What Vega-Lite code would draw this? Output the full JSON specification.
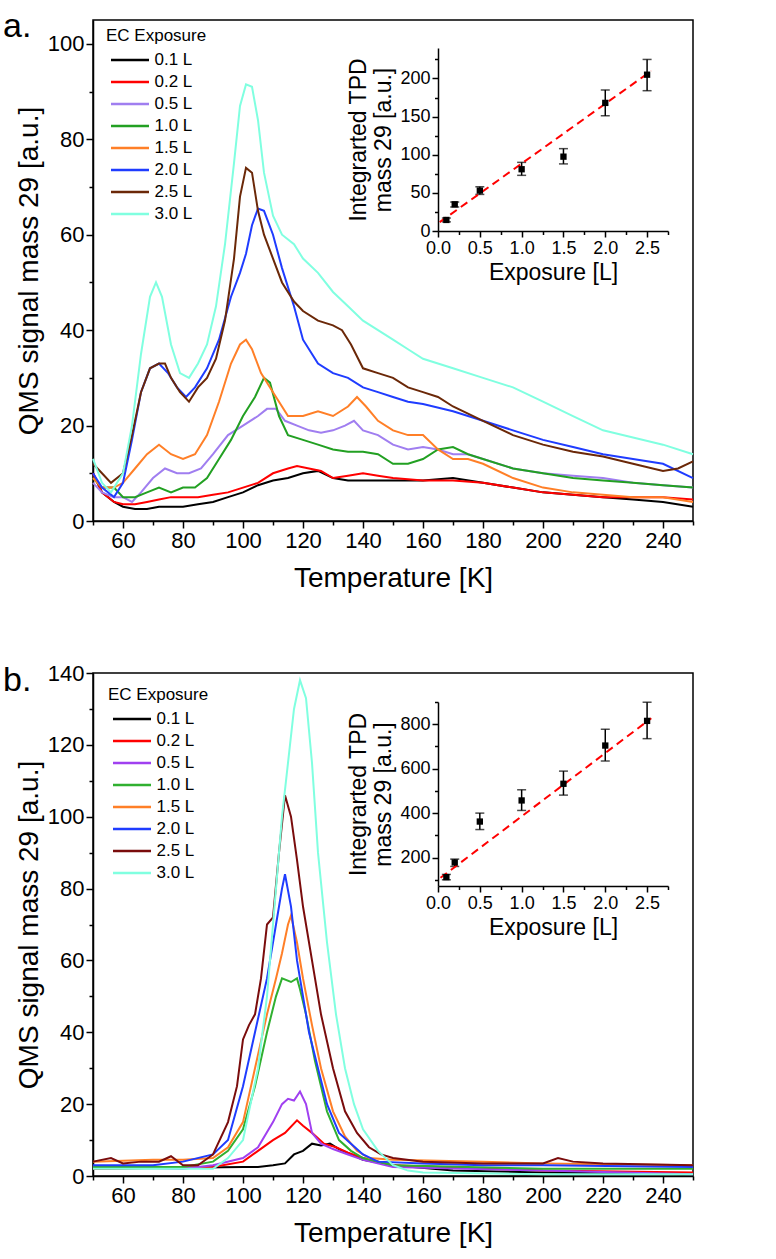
{
  "$schema": "https://vega.github.io/schema/vega-lite/v6.json",
  "padding": {"left": 2, "top": 8, "right": 10, "bottom": 2},
  "spacing": 68,
  "config": {
    "font": "Liberation Sans",
    "view": {"stroke": "black", "strokeWidth": 1.5},
    "axis": {"grid": false, "domainColor": "black", "tickColor": "black", "labelColor": "black", "titleColor": "black", "domainWidth": 1.5, "tickWidth": 1.5, "labelFontSize": 22, "titleFontSize": 28, "titleFontWeight": "normal", "labelOverlap": false, "labelFlush": false, "labelPadding": 2},
    "legend": {"titleFontSize": 17, "labelFontSize": 17, "titleFontWeight": "normal", "titleColor": "black", "labelColor": "black", "padding": 0, "rowPadding": 3, "titlePadding": 4, "symbolType": "M-1,0H3", "symbolSize": 361, "symbolStrokeWidth": 2.5, "symbolOffset": 3.5, "labelOffset": 23}
  },
  "resolve": {"scale": {"color": "independent"}},
  "datasets": {
    "a": [
      {"s":"0.1 L","t":50,"v":10},{"s":"0.1 L","t":53,"v":6},{"s":"0.1 L","t":57,"v":4},{"s":"0.1 L","t":60,"v":3},{"s":"0.1 L","t":64,"v":2.5},{"s":"0.1 L","t":68,"v":2.5},{"s":"0.1 L","t":72,"v":3},{"s":"0.1 L","t":76,"v":3},{"s":"0.1 L","t":80,"v":3},{"s":"0.1 L","t":85,"v":3.5},{"s":"0.1 L","t":90,"v":4},{"s":"0.1 L","t":95,"v":5},{"s":"0.1 L","t":100,"v":6},{"s":"0.1 L","t":105,"v":7.5},{"s":"0.1 L","t":110,"v":8.5},{"s":"0.1 L","t":115,"v":9},{"s":"0.1 L","t":120,"v":10},{"s":"0.1 L","t":125,"v":10.5},{"s":"0.1 L","t":130,"v":9},{"s":"0.1 L","t":135,"v":8.5},{"s":"0.1 L","t":140,"v":8.5},{"s":"0.1 L","t":150,"v":8.5},{"s":"0.1 L","t":160,"v":8.5},{"s":"0.1 L","t":170,"v":9},{"s":"0.1 L","t":180,"v":8},{"s":"0.1 L","t":190,"v":7},{"s":"0.1 L","t":200,"v":6},{"s":"0.1 L","t":210,"v":5.5},{"s":"0.1 L","t":220,"v":5},{"s":"0.1 L","t":230,"v":4.5},{"s":"0.1 L","t":240,"v":4},{"s":"0.1 L","t":250,"v":3},
      {"s":"0.2 L","t":50,"v":10},{"s":"0.2 L","t":53,"v":6},{"s":"0.2 L","t":57,"v":4},{"s":"0.2 L","t":60,"v":3.5},{"s":"0.2 L","t":64,"v":3.5},{"s":"0.2 L","t":68,"v":4},{"s":"0.2 L","t":72,"v":4.5},{"s":"0.2 L","t":76,"v":5},{"s":"0.2 L","t":80,"v":5},{"s":"0.2 L","t":85,"v":5},{"s":"0.2 L","t":90,"v":5.5},{"s":"0.2 L","t":95,"v":6},{"s":"0.2 L","t":100,"v":7},{"s":"0.2 L","t":105,"v":8},{"s":"0.2 L","t":110,"v":10},{"s":"0.2 L","t":115,"v":11},{"s":"0.2 L","t":118,"v":11.5},{"s":"0.2 L","t":122,"v":11},{"s":"0.2 L","t":126,"v":10.5},{"s":"0.2 L","t":130,"v":9},{"s":"0.2 L","t":135,"v":9.5},{"s":"0.2 L","t":140,"v":10},{"s":"0.2 L","t":145,"v":9.5},{"s":"0.2 L","t":150,"v":9},{"s":"0.2 L","t":160,"v":8.5},{"s":"0.2 L","t":170,"v":8.5},{"s":"0.2 L","t":180,"v":8},{"s":"0.2 L","t":190,"v":7},{"s":"0.2 L","t":200,"v":6},{"s":"0.2 L","t":210,"v":5.5},{"s":"0.2 L","t":220,"v":5},{"s":"0.2 L","t":230,"v":5},{"s":"0.2 L","t":240,"v":5},{"s":"0.2 L","t":250,"v":4.5},
      {"s":"0.5 L","t":50,"v":8},{"s":"0.5 L","t":53,"v":6},{"s":"0.5 L","t":57,"v":5},{"s":"0.5 L","t":60,"v":5},{"s":"0.5 L","t":63,"v":4},{"s":"0.5 L","t":66,"v":6},{"s":"0.5 L","t":70,"v":9},{"s":"0.5 L","t":74,"v":11},{"s":"0.5 L","t":78,"v":10},{"s":"0.5 L","t":82,"v":10},{"s":"0.5 L","t":86,"v":11},{"s":"0.5 L","t":90,"v":14},{"s":"0.5 L","t":95,"v":18},{"s":"0.5 L","t":100,"v":20},{"s":"0.5 L","t":105,"v":22},{"s":"0.5 L","t":108,"v":23.5},{"s":"0.5 L","t":111,"v":23.5},{"s":"0.5 L","t":114,"v":21},{"s":"0.5 L","t":118,"v":20},{"s":"0.5 L","t":122,"v":19},{"s":"0.5 L","t":126,"v":18.5},{"s":"0.5 L","t":130,"v":19},{"s":"0.5 L","t":134,"v":20},{"s":"0.5 L","t":137,"v":21},{"s":"0.5 L","t":140,"v":19},{"s":"0.5 L","t":145,"v":18},{"s":"0.5 L","t":150,"v":16},{"s":"0.5 L","t":155,"v":15},{"s":"0.5 L","t":160,"v":15.5},{"s":"0.5 L","t":165,"v":15},{"s":"0.5 L","t":170,"v":14},{"s":"0.5 L","t":175,"v":14},{"s":"0.5 L","t":180,"v":13},{"s":"0.5 L","t":190,"v":11},{"s":"0.5 L","t":200,"v":10},{"s":"0.5 L","t":210,"v":9.5},{"s":"0.5 L","t":220,"v":9},{"s":"0.5 L","t":230,"v":8},{"s":"0.5 L","t":240,"v":7.5},{"s":"0.5 L","t":250,"v":7},
      {"s":"1.0 L","t":50,"v":9},{"s":"1.0 L","t":53,"v":7},{"s":"1.0 L","t":57,"v":7},{"s":"1.0 L","t":60,"v":5},{"s":"1.0 L","t":64,"v":5},{"s":"1.0 L","t":68,"v":6},{"s":"1.0 L","t":72,"v":7},{"s":"1.0 L","t":76,"v":6},{"s":"1.0 L","t":80,"v":7},{"s":"1.0 L","t":84,"v":7},{"s":"1.0 L","t":88,"v":9},{"s":"1.0 L","t":92,"v":13},{"s":"1.0 L","t":96,"v":17},{"s":"1.0 L","t":100,"v":22},{"s":"1.0 L","t":104,"v":26},{"s":"1.0 L","t":107,"v":30},{"s":"1.0 L","t":109,"v":29},{"s":"1.0 L","t":112,"v":22},{"s":"1.0 L","t":115,"v":18},{"s":"1.0 L","t":120,"v":17},{"s":"1.0 L","t":125,"v":16},{"s":"1.0 L","t":130,"v":15},{"s":"1.0 L","t":135,"v":14.5},{"s":"1.0 L","t":140,"v":14.5},{"s":"1.0 L","t":145,"v":14},{"s":"1.0 L","t":150,"v":12},{"s":"1.0 L","t":155,"v":12},{"s":"1.0 L","t":160,"v":13},{"s":"1.0 L","t":165,"v":15},{"s":"1.0 L","t":170,"v":15.5},{"s":"1.0 L","t":175,"v":14},{"s":"1.0 L","t":180,"v":13},{"s":"1.0 L","t":190,"v":11},{"s":"1.0 L","t":200,"v":10},{"s":"1.0 L","t":210,"v":9},{"s":"1.0 L","t":220,"v":8.5},{"s":"1.0 L","t":230,"v":8},{"s":"1.0 L","t":240,"v":7.5},{"s":"1.0 L","t":250,"v":7},
      {"s":"1.5 L","t":50,"v":9},{"s":"1.5 L","t":53,"v":7},{"s":"1.5 L","t":57,"v":7},{"s":"1.5 L","t":60,"v":8},{"s":"1.5 L","t":64,"v":11},{"s":"1.5 L","t":68,"v":14},{"s":"1.5 L","t":72,"v":16},{"s":"1.5 L","t":76,"v":14},{"s":"1.5 L","t":80,"v":13},{"s":"1.5 L","t":84,"v":14},{"s":"1.5 L","t":88,"v":18},{"s":"1.5 L","t":92,"v":25},{"s":"1.5 L","t":96,"v":33},{"s":"1.5 L","t":99,"v":37},{"s":"1.5 L","t":101,"v":38},{"s":"1.5 L","t":103,"v":36},{"s":"1.5 L","t":106,"v":31},{"s":"1.5 L","t":110,"v":27},{"s":"1.5 L","t":115,"v":22},{"s":"1.5 L","t":120,"v":22},{"s":"1.5 L","t":125,"v":23},{"s":"1.5 L","t":130,"v":22},{"s":"1.5 L","t":135,"v":24},{"s":"1.5 L","t":138,"v":26},{"s":"1.5 L","t":141,"v":24},{"s":"1.5 L","t":145,"v":21},{"s":"1.5 L","t":150,"v":19},{"s":"1.5 L","t":155,"v":18},{"s":"1.5 L","t":160,"v":18},{"s":"1.5 L","t":165,"v":15},{"s":"1.5 L","t":170,"v":13},{"s":"1.5 L","t":175,"v":13},{"s":"1.5 L","t":180,"v":12},{"s":"1.5 L","t":190,"v":9},{"s":"1.5 L","t":200,"v":7},{"s":"1.5 L","t":210,"v":6},{"s":"1.5 L","t":220,"v":5.5},{"s":"1.5 L","t":230,"v":5},{"s":"1.5 L","t":240,"v":5},{"s":"1.5 L","t":250,"v":4},
      {"s":"2.0 L","t":50,"v":10},{"s":"2.0 L","t":53,"v":7},{"s":"2.0 L","t":57,"v":5},{"s":"2.0 L","t":60,"v":8},{"s":"2.0 L","t":63,"v":17},{"s":"2.0 L","t":66,"v":27},{"s":"2.0 L","t":69,"v":32},{"s":"2.0 L","t":72,"v":33},{"s":"2.0 L","t":75,"v":31},{"s":"2.0 L","t":78,"v":28},{"s":"2.0 L","t":81,"v":26},{"s":"2.0 L","t":84,"v":28},{"s":"2.0 L","t":88,"v":32},{"s":"2.0 L","t":92,"v":38},{"s":"2.0 L","t":96,"v":47},{"s":"2.0 L","t":99,"v":52},{"s":"2.0 L","t":101,"v":56},{"s":"2.0 L","t":103,"v":62},{"s":"2.0 L","t":105,"v":65.5},{"s":"2.0 L","t":107,"v":65},{"s":"2.0 L","t":110,"v":60},{"s":"2.0 L","t":113,"v":53},{"s":"2.0 L","t":117,"v":45},{"s":"2.0 L","t":120,"v":38},{"s":"2.0 L","t":125,"v":33},{"s":"2.0 L","t":130,"v":31},{"s":"2.0 L","t":135,"v":30},{"s":"2.0 L","t":140,"v":28},{"s":"2.0 L","t":145,"v":27},{"s":"2.0 L","t":150,"v":26},{"s":"2.0 L","t":155,"v":25},{"s":"2.0 L","t":160,"v":24.5},{"s":"2.0 L","t":170,"v":23},{"s":"2.0 L","t":180,"v":21},{"s":"2.0 L","t":190,"v":19},{"s":"2.0 L","t":200,"v":17},{"s":"2.0 L","t":210,"v":15.5},{"s":"2.0 L","t":220,"v":14},{"s":"2.0 L","t":230,"v":13},{"s":"2.0 L","t":240,"v":12},{"s":"2.0 L","t":250,"v":9},
      {"s":"2.5 L","t":50,"v":12},{"s":"2.5 L","t":53,"v":10},{"s":"2.5 L","t":56,"v":8},{"s":"2.5 L","t":60,"v":10},{"s":"2.5 L","t":63,"v":18},{"s":"2.5 L","t":66,"v":27},{"s":"2.5 L","t":69,"v":32},{"s":"2.5 L","t":72,"v":33},{"s":"2.5 L","t":74,"v":33},{"s":"2.5 L","t":76,"v":30},{"s":"2.5 L","t":79,"v":27},{"s":"2.5 L","t":82,"v":25},{"s":"2.5 L","t":85,"v":28},{"s":"2.5 L","t":88,"v":30},{"s":"2.5 L","t":91,"v":34},{"s":"2.5 L","t":94,"v":42},{"s":"2.5 L","t":97,"v":55},{"s":"2.5 L","t":99,"v":68},{"s":"2.5 L","t":101,"v":74},{"s":"2.5 L","t":103,"v":73},{"s":"2.5 L","t":105,"v":65},{"s":"2.5 L","t":107,"v":60},{"s":"2.5 L","t":110,"v":55},{"s":"2.5 L","t":113,"v":50},{"s":"2.5 L","t":117,"v":46},{"s":"2.5 L","t":120,"v":44},{"s":"2.5 L","t":125,"v":42},{"s":"2.5 L","t":130,"v":41},{"s":"2.5 L","t":133,"v":40},{"s":"2.5 L","t":136,"v":37},{"s":"2.5 L","t":140,"v":32},{"s":"2.5 L","t":145,"v":31},{"s":"2.5 L","t":150,"v":30},{"s":"2.5 L","t":155,"v":28},{"s":"2.5 L","t":160,"v":27},{"s":"2.5 L","t":165,"v":26},{"s":"2.5 L","t":170,"v":24},{"s":"2.5 L","t":180,"v":21},{"s":"2.5 L","t":190,"v":18},{"s":"2.5 L","t":200,"v":16},{"s":"2.5 L","t":210,"v":14.5},{"s":"2.5 L","t":220,"v":13.5},{"s":"2.5 L","t":230,"v":12},{"s":"2.5 L","t":240,"v":10.5},{"s":"2.5 L","t":245,"v":11},{"s":"2.5 L","t":250,"v":12.5},
      {"s":"3.0 L","t":50,"v":13},{"s":"3.0 L","t":53,"v":8},{"s":"3.0 L","t":56,"v":6},{"s":"3.0 L","t":60,"v":10},{"s":"3.0 L","t":63,"v":20},{"s":"3.0 L","t":66,"v":35},{"s":"3.0 L","t":69,"v":47},{"s":"3.0 L","t":71,"v":50},{"s":"3.0 L","t":73,"v":47},{"s":"3.0 L","t":76,"v":37},{"s":"3.0 L","t":79,"v":31},{"s":"3.0 L","t":82,"v":30},{"s":"3.0 L","t":85,"v":33},{"s":"3.0 L","t":88,"v":37},{"s":"3.0 L","t":91,"v":45},{"s":"3.0 L","t":94,"v":58},{"s":"3.0 L","t":97,"v":75},{"s":"3.0 L","t":99,"v":87},{"s":"3.0 L","t":101,"v":91.5},{"s":"3.0 L","t":103,"v":91},{"s":"3.0 L","t":105,"v":84},{"s":"3.0 L","t":107,"v":73},{"s":"3.0 L","t":110,"v":64},{"s":"3.0 L","t":113,"v":60},{"s":"3.0 L","t":117,"v":58},{"s":"3.0 L","t":120,"v":55},{"s":"3.0 L","t":125,"v":52},{"s":"3.0 L","t":130,"v":48},{"s":"3.0 L","t":135,"v":45},{"s":"3.0 L","t":140,"v":42},{"s":"3.0 L","t":145,"v":40},{"s":"3.0 L","t":150,"v":38},{"s":"3.0 L","t":155,"v":36},{"s":"3.0 L","t":160,"v":34},{"s":"3.0 L","t":170,"v":32},{"s":"3.0 L","t":180,"v":30},{"s":"3.0 L","t":190,"v":28},{"s":"3.0 L","t":200,"v":25},{"s":"3.0 L","t":210,"v":22},{"s":"3.0 L","t":220,"v":19},{"s":"3.0 L","t":230,"v":17.5},{"s":"3.0 L","t":240,"v":16},{"s":"3.0 L","t":250,"v":14}
    ],
    "b": [
      {"s":"0.1 L","t":50,"v":2},{"s":"0.1 L","t":100,"v":2.5},{"s":"0.1 L","t":105,"v":2.5},{"s":"0.1 L","t":110,"v":3},{"s":"0.1 L","t":114,"v":3.5},{"s":"0.1 L","t":117,"v":6},{"s":"0.1 L","t":120,"v":7},{"s":"0.1 L","t":123,"v":9},{"s":"0.1 L","t":126,"v":8.5},{"s":"0.1 L","t":129,"v":9},{"s":"0.1 L","t":132,"v":7.5},{"s":"0.1 L","t":136,"v":6},{"s":"0.1 L","t":140,"v":4.5},{"s":"0.1 L","t":150,"v":3},{"s":"0.1 L","t":170,"v":1.5},{"s":"0.1 L","t":200,"v":1},{"s":"0.1 L","t":250,"v":0.5},
      {"s":"0.2 L","t":50,"v":2},{"s":"0.2 L","t":90,"v":2.5},{"s":"0.2 L","t":100,"v":4},{"s":"0.2 L","t":105,"v":7},{"s":"0.2 L","t":110,"v":10},{"s":"0.2 L","t":114,"v":12},{"s":"0.2 L","t":118,"v":15.5},{"s":"0.2 L","t":120,"v":14},{"s":"0.2 L","t":123,"v":12},{"s":"0.2 L","t":127,"v":9},{"s":"0.2 L","t":131,"v":8},{"s":"0.2 L","t":135,"v":6.5},{"s":"0.2 L","t":140,"v":5},{"s":"0.2 L","t":150,"v":3},{"s":"0.2 L","t":200,"v":1.5},{"s":"0.2 L","t":250,"v":1},
      {"s":"0.5 L","t":50,"v":2.5},{"s":"0.5 L","t":80,"v":2},{"s":"0.5 L","t":90,"v":3},{"s":"0.5 L","t":100,"v":5},{"s":"0.5 L","t":105,"v":8},{"s":"0.5 L","t":110,"v":15},{"s":"0.5 L","t":113,"v":20},{"s":"0.5 L","t":115,"v":21.5},{"s":"0.5 L","t":117,"v":21},{"s":"0.5 L","t":119,"v":23.5},{"s":"0.5 L","t":121,"v":20},{"s":"0.5 L","t":123,"v":12},{"s":"0.5 L","t":126,"v":9},{"s":"0.5 L","t":130,"v":7.5},{"s":"0.5 L","t":135,"v":6},{"s":"0.5 L","t":140,"v":4.5},{"s":"0.5 L","t":150,"v":2.5},{"s":"0.5 L","t":200,"v":1.5},{"s":"0.5 L","t":250,"v":0.5},
      {"s":"1.0 L","t":50,"v":2.5},{"s":"1.0 L","t":80,"v":2.5},{"s":"1.0 L","t":90,"v":4},{"s":"1.0 L","t":95,"v":7},{"s":"1.0 L","t":100,"v":13},{"s":"1.0 L","t":104,"v":25},{"s":"1.0 L","t":108,"v":40},{"s":"1.0 L","t":111,"v":50},{"s":"1.0 L","t":113,"v":55},{"s":"1.0 L","t":116,"v":54},{"s":"1.0 L","t":118,"v":55},{"s":"1.0 L","t":119,"v":52},{"s":"1.0 L","t":121,"v":45},{"s":"1.0 L","t":124,"v":32},{"s":"1.0 L","t":128,"v":18},{"s":"1.0 L","t":132,"v":10},{"s":"1.0 L","t":136,"v":7},{"s":"1.0 L","t":140,"v":5},{"s":"1.0 L","t":150,"v":3},{"s":"1.0 L","t":200,"v":2},{"s":"1.0 L","t":250,"v":2},
      {"s":"1.5 L","t":50,"v":4},{"s":"1.5 L","t":70,"v":4.5},{"s":"1.5 L","t":80,"v":4.5},{"s":"1.5 L","t":90,"v":5},{"s":"1.5 L","t":95,"v":8},{"s":"1.5 L","t":100,"v":15},{"s":"1.5 L","t":104,"v":30},{"s":"1.5 L","t":108,"v":45},{"s":"1.5 L","t":111,"v":55},{"s":"1.5 L","t":113,"v":62},{"s":"1.5 L","t":115,"v":70},{"s":"1.5 L","t":116,"v":72.5},{"s":"1.5 L","t":118,"v":65},{"s":"1.5 L","t":120,"v":55},{"s":"1.5 L","t":123,"v":42},{"s":"1.5 L","t":126,"v":30},{"s":"1.5 L","t":130,"v":18},{"s":"1.5 L","t":134,"v":11},{"s":"1.5 L","t":138,"v":7},{"s":"1.5 L","t":142,"v":5},{"s":"1.5 L","t":150,"v":4.5},{"s":"1.5 L","t":180,"v":4},{"s":"1.5 L","t":200,"v":3.5},{"s":"1.5 L","t":250,"v":3},
      {"s":"2.0 L","t":50,"v":3},{"s":"2.0 L","t":70,"v":3},{"s":"2.0 L","t":80,"v":4},{"s":"2.0 L","t":90,"v":6},{"s":"2.0 L","t":95,"v":10},{"s":"2.0 L","t":100,"v":25},{"s":"2.0 L","t":104,"v":40},{"s":"2.0 L","t":108,"v":55},{"s":"2.0 L","t":111,"v":70},{"s":"2.0 L","t":113,"v":80},{"s":"2.0 L","t":114,"v":84},{"s":"2.0 L","t":116,"v":75},{"s":"2.0 L","t":118,"v":60},{"s":"2.0 L","t":120,"v":50},{"s":"2.0 L","t":122,"v":40},{"s":"2.0 L","t":125,"v":30},{"s":"2.0 L","t":128,"v":20},{"s":"2.0 L","t":132,"v":12},{"s":"2.0 L","t":136,"v":9},{"s":"2.0 L","t":140,"v":6},{"s":"2.0 L","t":145,"v":4},{"s":"2.0 L","t":160,"v":3.5},{"s":"2.0 L","t":180,"v":3},{"s":"2.0 L","t":200,"v":3},{"s":"2.0 L","t":250,"v":2.5},
      {"s":"2.5 L","t":50,"v":4},{"s":"2.5 L","t":56,"v":5},{"s":"2.5 L","t":60,"v":3.5},{"s":"2.5 L","t":66,"v":4},{"s":"2.5 L","t":72,"v":4},{"s":"2.5 L","t":76,"v":5.5},{"s":"2.5 L","t":80,"v":3},{"s":"2.5 L","t":85,"v":3},{"s":"2.5 L","t":90,"v":6},{"s":"2.5 L","t":95,"v":15},{"s":"2.5 L","t":98,"v":25},{"s":"2.5 L","t":100,"v":38},{"s":"2.5 L","t":102,"v":42},{"s":"2.5 L","t":104,"v":45},{"s":"2.5 L","t":106,"v":55},{"s":"2.5 L","t":108,"v":70},{"s":"2.5 L","t":110,"v":72},{"s":"2.5 L","t":112,"v":90},{"s":"2.5 L","t":114,"v":106},{"s":"2.5 L","t":116,"v":100},{"s":"2.5 L","t":118,"v":88},{"s":"2.5 L","t":120,"v":75},{"s":"2.5 L","t":123,"v":60},{"s":"2.5 L","t":126,"v":45},{"s":"2.5 L","t":130,"v":30},{"s":"2.5 L","t":134,"v":18},{"s":"2.5 L","t":138,"v":12},{"s":"2.5 L","t":142,"v":8},{"s":"2.5 L","t":146,"v":6},{"s":"2.5 L","t":150,"v":5},{"s":"2.5 L","t":160,"v":4},{"s":"2.5 L","t":180,"v":3.5},{"s":"2.5 L","t":200,"v":3.5},{"s":"2.5 L","t":205,"v":5},{"s":"2.5 L","t":210,"v":4},{"s":"2.5 L","t":220,"v":3.5},{"s":"2.5 L","t":250,"v":3},
      {"s":"3.0 L","t":50,"v":2},{"s":"3.0 L","t":90,"v":2},{"s":"3.0 L","t":95,"v":5},{"s":"3.0 L","t":100,"v":10},{"s":"3.0 L","t":105,"v":30},{"s":"3.0 L","t":108,"v":50},{"s":"3.0 L","t":110,"v":70},{"s":"3.0 L","t":113,"v":100},{"s":"3.0 L","t":115,"v":115},{"s":"3.0 L","t":117,"v":130},{"s":"3.0 L","t":119,"v":138},{"s":"3.0 L","t":121,"v":133},{"s":"3.0 L","t":123,"v":115},{"s":"3.0 L","t":125,"v":90},{"s":"3.0 L","t":128,"v":65},{"s":"3.0 L","t":131,"v":45},{"s":"3.0 L","t":134,"v":30},{"s":"3.0 L","t":137,"v":20},{"s":"3.0 L","t":140,"v":13},{"s":"3.0 L","t":145,"v":7},{"s":"3.0 L","t":150,"v":3},{"s":"3.0 L","t":155,"v":1.5},{"s":"3.0 L","t":160,"v":1},{"s":"3.0 L","t":200,"v":0.5},{"s":"3.0 L","t":250,"v":0.5}
    ],
    "ia": [
      {"e":0.1,"v":14.5,"lo":12,"hi":17},{"e":0.2,"v":35,"lo":31.5,"hi":38},{"e":0.5,"v":53,"lo":48,"hi":58},{"e":1.0,"v":81,"lo":73,"hi":90},{"e":1.5,"v":97.5,"lo":88,"hi":108},{"e":2.0,"v":168,"lo":151,"hi":185},{"e":2.5,"v":205,"lo":184,"hi":225}
    ],
    "fa": [{"e":0.02,"v":11.6},{"e":2.55,"v":210}],
    "ib": [
      {"e":0.1,"v":112,"lo":100,"hi":124},{"e":0.2,"v":178,"lo":160,"hi":193},{"e":0.5,"v":362,"lo":326,"hi":400},{"e":1.0,"v":457,"lo":412,"hi":505},{"e":1.5,"v":532,"lo":481,"hi":589},{"e":2.0,"v":704,"lo":635,"hi":777},{"e":2.5,"v":815,"lo":735,"hi":899}
    ],
    "fb": [{"e":0.03,"v":109},{"e":2.55,"v":827}]
  },
  "vconcat": [
    {
      "width": 600, "height": 501,
      "resolve": {"scale": {"x": "independent", "y": "independent"}},
      "layer": [
        {
          "layer": [
            {
              "data": {"name": "a"},
              "mark": {"type": "line", "strokeWidth": 2},
              "encoding": {
                "x": {"field": "t", "type": "quantitative", "scale": {"domain": [50, 250], "nice": false, "zero": false},
                      "axis": {"title": "Temperature [K]", "orient": "bottom", "values": [50,60,70,80,90,100,110,120,130,140,150,160,170,180,190,200,210,220,230,240,250], "labelExpr": "datum.value % 20 === 0 ? datum.label : ''", "tickSize": {"condition": {"test": "datum.value % 20 === 0", "value": 7}, "value": 4}, "titlePadding": 13}},
                "y": {"field": "v", "type": "quantitative", "scale": {"domain": [0, 105], "nice": false, "zero": false},
                      "axis": {"title": "QMS signal mass 29 [a.u.]", "orient": "left", "values": [0,10,20,30,40,50,60,70,80,90,100], "labelExpr": "datum.value % 20 === 0 ? datum.label : ''", "tickSize": {"condition": {"test": "datum.value % 20 === 0", "value": 7}, "value": 4}, "titlePadding": 4}},
                "color": {"field": "s", "type": "nominal",
                          "scale": {"domain": ["0.1 L","0.2 L","0.5 L","1.0 L","1.5 L","2.0 L","2.5 L","3.0 L"], "range": ["#000000","#ff0000","#a07ef0","#22a022","#ff7f27","#1f3cff","#6b2808","#80ffe0"]},
                          "legend": {"title": "EC Exposure", "orient": "none", "legendX": 13, "legendY": 8}}
              }
            },
            {
              "data": {"values": [{}]},
              "mark": {"type": "text", "text": "a.", "fontSize": 34, "align": "left", "baseline": "alphabetic", "color": "black"},
              "encoding": {
                "x": {"datum": 20, "type": "quantitative", "scale": {"domain": [50, 250], "nice": false, "zero": false},
                      "axis": {"title": "Temperature [K]", "orient": "bottom", "values": [50,60,70,80,90,100,110,120,130,140,150,160,170,180,190,200,210,220,230,240,250], "labelExpr": "datum.value % 20 === 0 ? datum.label : ''", "tickSize": {"condition": {"test": "datum.value % 20 === 0", "value": 7}, "value": 4}, "titlePadding": 13}},
                "y": {"datum": 101.5, "type": "quantitative", "scale": {"domain": [0, 105], "nice": false, "zero": false},
                      "axis": {"title": "QMS signal mass 29 [a.u.]", "orient": "left", "values": [0,10,20,30,40,50,60,70,80,90,100], "labelExpr": "datum.value % 20 === 0 ? datum.label : ''", "tickSize": {"condition": {"test": "datum.value % 20 === 0", "value": 7}, "value": 4}, "titlePadding": 4}}
              }
            }
          ]
        },
        {
          "layer": [
            {
              "data": {"name": "ia"},
              "mark": {"type": "rule", "color": "black", "strokeWidth": 1.5},
              "encoding": {
                "x": {"field": "e", "type": "quantitative", "scale": {"domain": [0, 2.75], "range": [345, 575], "nice": false, "zero": false},
                      "axis": {"title": "Exposure [L]", "orient": "bottom", "offset": -290, "values": [0,0.25,0.5,0.75,1,1.25,1.5,1.75,2,2.25,2.5,2.75], "format": ".1f", "labelExpr": "(datum.value * 4) % 2 === 0 ? datum.label : ''", "tickSize": {"condition": {"test": "(datum.value * 4) % 2 === 0", "value": 6}, "value": 3.5}, "labelFontSize": 18, "titleFontSize": 23, "titlePadding": 4}},
                "y": {"field": "lo", "type": "quantitative", "scale": {"domain": [0, 240], "range": [211, 28], "nice": false, "zero": false},
                      "axis": {"title": ["Integrarted TPD", "mass 29 [a.u.]"], "orient": "left", "offset": -345, "values": [0,25,50,75,100,125,150,175,200,225], "labelExpr": "datum.value % 50 === 0 ? datum.label : ''", "tickSize": {"condition": {"test": "datum.value % 50 === 0", "value": 6}, "value": 3.5}, "labelFontSize": 18, "titleFontSize": 23, "titlePadding": 4}},
                "y2": {"field": "hi"}
              }
            },
            {
              "data": {"name": "ia"},
              "mark": {"type": "tick", "orient": "horizontal", "color": "black", "size": 9, "thickness": 1.5},
              "encoding": {
                "x": {"field": "e", "type": "quantitative", "scale": {"domain": [0, 2.75], "range": [345, 575], "nice": false, "zero": false}},
                "y": {"field": "lo", "type": "quantitative", "scale": {"domain": [0, 240], "range": [211, 28], "nice": false, "zero": false}}
              }
            },
            {
              "data": {"name": "ia"},
              "mark": {"type": "tick", "orient": "horizontal", "color": "black", "size": 9, "thickness": 1.5},
              "encoding": {
                "x": {"field": "e", "type": "quantitative", "scale": {"domain": [0, 2.75], "range": [345, 575], "nice": false, "zero": false}},
                "y": {"field": "hi", "type": "quantitative", "scale": {"domain": [0, 240], "range": [211, 28], "nice": false, "zero": false}}
              }
            },
            {
              "data": {"name": "fa"},
              "mark": {"type": "line", "color": "#ff0000", "strokeWidth": 2, "strokeDash": [8, 5]},
              "encoding": {
                "x": {"field": "e", "type": "quantitative", "scale": {"domain": [0, 2.75], "range": [345, 575], "nice": false, "zero": false}},
                "y": {"field": "v", "type": "quantitative", "scale": {"domain": [0, 240], "range": [211, 28], "nice": false, "zero": false}}
              }
            },
            {
              "data": {"name": "ia"},
              "mark": {"type": "square", "color": "black", "size": 40, "opacity": 1},
              "encoding": {
                "x": {"field": "e", "type": "quantitative", "scale": {"domain": [0, 2.75], "range": [345, 575], "nice": false, "zero": false}},
                "y": {"field": "v", "type": "quantitative", "scale": {"domain": [0, 240], "range": [211, 28], "nice": false, "zero": false}}
              }
            }
          ]
        }
      ]
    },
    {
      "width": 600, "height": 503,
      "resolve": {"scale": {"x": "independent", "y": "independent"}},
      "layer": [
        {
          "layer": [
            {
              "data": {"name": "b"},
              "mark": {"type": "line", "strokeWidth": 2},
              "encoding": {
                "x": {"field": "t", "type": "quantitative", "scale": {"domain": [50, 250], "nice": false, "zero": false},
                      "axis": {"title": "Temperature [K]", "orient": "bottom", "values": [50,60,70,80,90,100,110,120,130,140,150,160,170,180,190,200,210,220,230,240,250], "labelExpr": "datum.value % 20 === 0 ? datum.label : ''", "tickSize": {"condition": {"test": "datum.value % 20 === 0", "value": 7}, "value": 4}, "titlePadding": 13}},
                "y": {"field": "v", "type": "quantitative", "scale": {"domain": [0, 140], "nice": false, "zero": false},
                      "axis": {"title": "QMS signal mass 29 [a.u.]", "orient": "left", "values": [0,10,20,30,40,50,60,70,80,90,100,110,120,130,140], "labelExpr": "datum.value % 20 === 0 ? datum.label : ''", "tickSize": {"condition": {"test": "datum.value % 20 === 0", "value": 7}, "value": 4}, "titlePadding": 4}},
                "color": {"field": "s", "type": "nominal",
                          "scale": {"domain": ["0.1 L","0.2 L","0.5 L","1.0 L","1.5 L","2.0 L","2.5 L","3.0 L"], "range": ["#000000","#ff0000","#a040f0","#30b030","#ff7f27","#1f3cff","#7a0c0c","#80ffe0"]},
                          "legend": {"title": "EC Exposure", "orient": "none", "legendX": 15, "legendY": 14}}
              }
            },
            {
              "data": {"values": [{}]},
              "mark": {"type": "text", "text": "b.", "fontSize": 34, "align": "left", "baseline": "alphabetic", "color": "black"},
              "encoding": {
                "x": {"datum": 20, "type": "quantitative", "scale": {"domain": [50, 250], "nice": false, "zero": false},
                      "axis": {"title": "Temperature [K]", "orient": "bottom", "values": [50,60,70,80,90,100,110,120,130,140,150,160,170,180,190,200,210,220,230,240,250], "labelExpr": "datum.value % 20 === 0 ? datum.label : ''", "tickSize": {"condition": {"test": "datum.value % 20 === 0", "value": 7}, "value": 4}, "titlePadding": 13}},
                "y": {"datum": 135, "type": "quantitative", "scale": {"domain": [0, 140], "nice": false, "zero": false},
                      "axis": {"title": "QMS signal mass 29 [a.u.]", "orient": "left", "values": [0,10,20,30,40,50,60,70,80,90,100,110,120,130,140], "labelExpr": "datum.value % 20 === 0 ? datum.label : ''", "tickSize": {"condition": {"test": "datum.value % 20 === 0", "value": 7}, "value": 4}, "titlePadding": 4}}
              }
            }
          ]
        },
        {
          "layer": [
            {
              "data": {"name": "ib"},
              "mark": {"type": "rule", "color": "black", "strokeWidth": 1.5},
              "encoding": {
                "x": {"field": "e", "type": "quantitative", "scale": {"domain": [0, 2.75], "range": [345, 575], "nice": false, "zero": false},
                      "axis": {"title": "Exposure [L]", "orient": "bottom", "offset": -290, "values": [0,0.25,0.5,0.75,1,1.25,1.5,1.75,2,2.25,2.5,2.75], "format": ".1f", "labelExpr": "(datum.value * 4) % 2 === 0 ? datum.label : ''", "tickSize": {"condition": {"test": "(datum.value * 4) % 2 === 0", "value": 6}, "value": 3.5}, "labelFontSize": 18, "titleFontSize": 23, "titlePadding": 4}},
                "y": {"field": "lo", "type": "quantitative", "scale": {"domain": [72, 900], "range": [213, 29], "nice": false, "zero": false},
                      "axis": {"title": ["Integrarted TPD", "mass 29 [a.u.]"], "orient": "left", "offset": -345, "values": [100,200,300,400,500,600,700,800,900], "labelExpr": "datum.value % 200 === 0 ? datum.label : ''", "tickSize": {"condition": {"test": "datum.value % 200 === 0", "value": 6}, "value": 3.5}, "labelFontSize": 18, "titleFontSize": 23, "titlePadding": 4}},
                "y2": {"field": "hi"}
              }
            },
            {
              "data": {"name": "ib"},
              "mark": {"type": "tick", "orient": "horizontal", "color": "black", "size": 9, "thickness": 1.5},
              "encoding": {
                "x": {"field": "e", "type": "quantitative", "scale": {"domain": [0, 2.75], "range": [345, 575], "nice": false, "zero": false}},
                "y": {"field": "lo", "type": "quantitative", "scale": {"domain": [72, 900], "range": [213, 29], "nice": false, "zero": false}}
              }
            },
            {
              "data": {"name": "ib"},
              "mark": {"type": "tick", "orient": "horizontal", "color": "black", "size": 9, "thickness": 1.5},
              "encoding": {
                "x": {"field": "e", "type": "quantitative", "scale": {"domain": [0, 2.75], "range": [345, 575], "nice": false, "zero": false}},
                "y": {"field": "hi", "type": "quantitative", "scale": {"domain": [72, 900], "range": [213, 29], "nice": false, "zero": false}}
              }
            },
            {
              "data": {"name": "fb"},
              "mark": {"type": "line", "color": "#ff0000", "strokeWidth": 2, "strokeDash": [8, 5]},
              "encoding": {
                "x": {"field": "e", "type": "quantitative", "scale": {"domain": [0, 2.75], "range": [345, 575], "nice": false, "zero": false}},
                "y": {"field": "v", "type": "quantitative", "scale": {"domain": [72, 900], "range": [213, 29], "nice": false, "zero": false}}
              }
            },
            {
              "data": {"name": "ib"},
              "mark": {"type": "square", "color": "black", "size": 40, "opacity": 1},
              "encoding": {
                "x": {"field": "e", "type": "quantitative", "scale": {"domain": [0, 2.75], "range": [345, 575], "nice": false, "zero": false}},
                "y": {"field": "v", "type": "quantitative", "scale": {"domain": [72, 900], "range": [213, 29], "nice": false, "zero": false}}
              }
            }
          ]
        }
      ]
    }
  ]
}
